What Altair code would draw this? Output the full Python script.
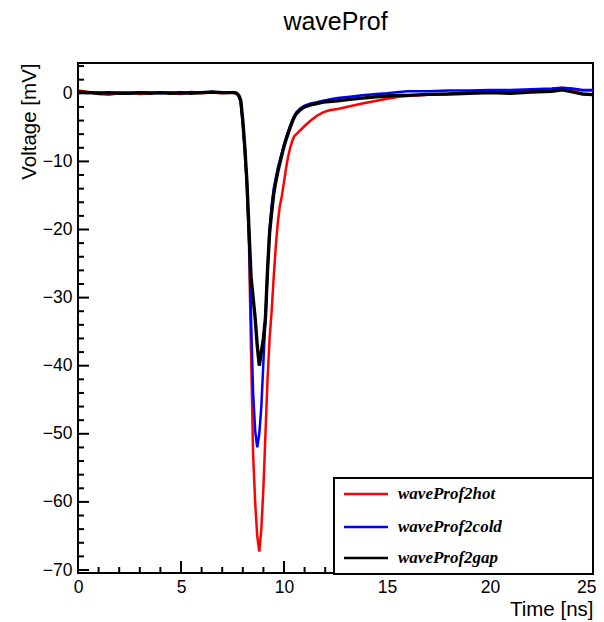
import altair as alt
import pandas as pd

# ---------------- data ----------------
times = [0, 0.5, 1, 1.5, 2, 2.5, 3, 3.5, 4, 4.5, 5, 5.5, 6, 6.5, 7, 7.5,
         7.6, 7.7, 7.8, 7.9, 8.0, 8.1, 8.2, 8.3, 8.4, 8.5, 8.6, 8.7, 8.8, 8.9, 9.0,
         9.1, 9.2, 9.3, 9.4, 9.5, 9.6, 9.7, 9.8, 9.9, 10.0, 10.1, 10.2, 10.3, 10.4, 10.5, 10.6,
         10.8, 11.0, 11.3, 11.6, 11.9, 12.2, 12.6, 13.2, 13.8, 14.5, 15, 15.6, 16, 17, 18,
         19, 20, 21, 22, 23, 23.5, 24, 24.5, 25]

hot = [0.4, 0.2, -0.1, -0.2, 0.0, 0.1, -0.1, 0.0, 0.1, 0.0, -0.1, 0.1, 0.0, 0.1, 0.0, 0.1,
       0.0, 0.0, -0.3, -1.2, -4.2, -8.3, -13.5, -22, -38, -53, -60, -65, -67.3, -64, -58,
       -50, -42, -36, -32, -27, -22.5, -19, -16.5, -15, -13, -11, -9.3, -8.0, -7.0, -6.3, -6.0,
       -5.4, -4.8, -4.0, -3.3, -2.8, -2.5, -2.3, -1.9, -1.5, -1.1, -0.8, -0.5, -0.4, -0.2, -0.1,
       0.1, 0.2, 0.3, 0.5, 0.6, 0.8, 0.6, 0.4, 0.4]

cold = [0.2, 0.1, 0.1, 0.0, 0.1, 0.0, 0.1, 0.1, 0.0, 0.1, 0.0, 0.2, 0.1, 0.2, 0.1, 0.1,
        0.1, 0.0, -0.4, -1.3, -4.5, -8.5, -13.5, -21, -33, -44, -49.5, -52, -50, -46, -39.5,
        -33, -26, -20, -16.5, -14, -12.5, -11, -9.8, -8.7, -7.5, -6.5, -5.6, -4.8, -4.0, -3.3, -2.8,
        -2.2, -1.8, -1.5, -1.3, -1.1, -0.9, -0.7, -0.5, -0.3, -0.1, 0.0, 0.2, 0.3, 0.3, 0.4,
        0.4, 0.5, 0.5, 0.6, 0.7, 0.8, 0.7, 0.5, 0.5]

gap = [0.2, 0.1, 0.0, 0.1, 0.0, 0.0, 0.1, 0.0, 0.1, 0.0, 0.1, 0.0, 0.1, 0.2, 0.1, 0.1,
       0.1, 0.0, -0.3, -1.0, -4.0, -8.0, -13, -20, -27, -30, -33, -37, -40, -38, -36,
       -33, -26, -20.5, -17.5, -14.8, -13, -11.5, -10.2, -9.0, -7.8, -6.8, -5.9, -5.0, -4.2, -3.5, -3.0,
       -2.4, -2.0, -1.7, -1.5, -1.3, -1.2, -1.1, -0.9, -0.7, -0.5, -0.4, -0.3, -0.3, -0.15, -0.1,
       0.0, 0.1, 0.0, 0.2, 0.3, 0.5, 0.2, -0.1, -0.2]

series_names = ["waveProf2hot", "waveProf2cold", "waveProf2gap"]
series_colors = ["#ff0000", "#0000ff", "#000000"]

x_major = [0, 5, 10, 15, 20, 25]
x_minor = [1, 2, 3, 4, 6, 7, 8, 9, 11, 12, 13, 14, 16, 17, 18, 19, 21, 22, 23, 24]
y_major = [0, -10, -20, -30, -40, -50, -60, -70]
y_minor = [4, 2, -2, -4, -6, -8, -12, -14, -16, -18, -22, -24, -26, -28, -32, -34, -36, -38,
           -42, -44, -46, -48, -52, -54, -56, -58, -62, -64, -66, -68]

chart_title = "waveProf"

# ---------------- chart ----------------
W, H = 515, 510
FONT = "Liberation Sans"

xscale = alt.Scale(domain=[0, 25], nice=False, zero=False)
yscale = alt.Scale(domain=[-70.44, 4.45], nice=False, zero=False)

x_axis = alt.Axis(values=x_major, ticks=False, tickSize=0, domain=False, grid=False,
                  labelFont=FONT, labelFontSize=17.5, labelColor="black", labelPadding=5,
                  labelFlush=False,
                  labelAlign={"condition": {"test": "datum.value == 25", "value": "right"},
                              "value": "center"},
                  labelOffset={"condition": {"test": "datum.value == 25", "value": 3},
                               "value": 0},
                  title="Time [ns]", titleFont=FONT, titleFontSize=20.5,
                  titleFontWeight="normal", titleColor="black", titleAnchor="end",
                  titleAlign="right", titleX=W, titleY=36, titleBaseline="middle")
y_axis = alt.Axis(values=y_major, ticks=False, tickSize=0, domain=False, grid=False,
                  labelFont=FONT, labelFontSize=17.5, labelColor="black", labelPadding=6,
                  labelFlush=False, title="Voltage [mV]", titleFont=FONT, titleFontSize=20.5,
                  titleFontWeight="normal", titleColor="black", titleAngle=270,
                  titleAlign="right", titleX=-49, titleY=0, titleBaseline="middle")

df = pd.DataFrame({"t": times, "hot": hot, "cold": cold, "gap": gap})

layers = []
for col, color, sw in [("hot", series_colors[0], 2.5), ("cold", series_colors[1], 2.5),
                       ("gap", series_colors[2], 3.4)]:
    layers.append(
        alt.Chart(df).mark_line(color=color, strokeWidth=sw, clip=True).encode(
            x=alt.X("t:Q", scale=xscale, axis=x_axis),
            y=alt.Y(f"{col}:Q", scale=yscale, axis=y_axis),
        )
    )

# inward ticks (ROOT style)
def yticks(vals, length):
    return alt.Chart(pd.DataFrame({"v": vals})).mark_rule(color="black", strokeWidth=2).encode(
        y=alt.Y("v:Q", scale=yscale, axis=y_axis),
        x=alt.value(0), x2=alt.value(length))

def xticks(vals, length):
    return alt.Chart(pd.DataFrame({"t": vals})).mark_rule(color="black", strokeWidth=2).encode(
        x=alt.X("t:Q", scale=xscale, axis=x_axis),
        y=alt.value(H), y2=alt.value(H - length))

layers += [yticks(y_major, 11), yticks(y_minor, 6), xticks(x_major, 12), xticks(x_minor, 6)]

# legend box
one = pd.DataFrame({"a": [0]})
layers.append(alt.Chart(one).mark_rect(fill="white", stroke="black", strokeWidth=2).encode(
    x=alt.value(256), x2=alt.value(W), y=alt.value(415), y2=alt.value(H + 1)))
for name, color, ypos in zip(series_names, series_colors, [431, 464, 495]):
    layers.append(alt.Chart(one).mark_rule(color=color, strokeWidth=2.5).encode(
        x=alt.value(266), x2=alt.value(310), y=alt.value(ypos)))
    layers.append(alt.Chart(one).mark_text(
        text=name, align="left", baseline="middle", font="Liberation Serif",
        fontStyle="italic", fontWeight="bold", fontSize=17, color="black").encode(
        x=alt.value(320), y=alt.value(ypos)))

# chart title
layers.append(alt.Chart(one).mark_text(
    text=chart_title, align="center", baseline="alphabetic", font=FONT, fontSize=25,
    color="black").encode(x=alt.value(W / 2), y=alt.value(-33)))

chart = alt.layer(*layers).properties(
    width=W, height=H,
    autosize=alt.AutoSizeParams(type="none"),
    padding={"left": 70, "top": 55, "right": 3, "bottom": 48},
).configure_view(stroke="black", strokeWidth=2)

chart.save("out.html", embed_options={"renderer": "svg", "actions": False})
